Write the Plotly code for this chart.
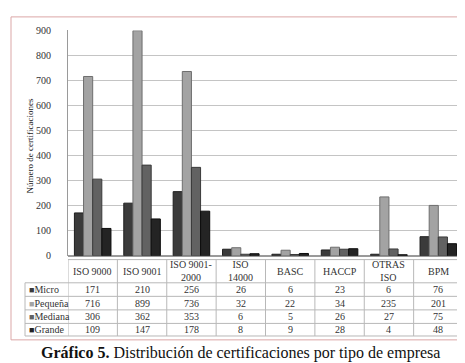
import plotly.graph_objects as go

categories = ["ISO 9000", "ISO 9001", "ISO 9001-<br>2000", "ISO<br>14000", "BASC", "HACCP", "OTRAS<br>ISO", "BPM"]
series_names = ["Micro", "Pequeña", "Mediana", "Grande"]
micro = [171, 210, 256, 26, 6, 23, 6, 76]
pequena = [716, 899, 736, 32, 22, 34, 235, 201]
mediana = [306, 362, 353, 6, 5, 26, 27, 75]
grande = [109, 147, 178, 8, 9, 28, 4, 48]
y_ticks = [0, 100, 200, 300, 400, 500, 600, 700, 800, 900]

values = [micro, pequena, mediana, grande]
colors = ["#3b3b3b", "#a3a3a3", "#626262", "#242424"]
edge = ["#1e1e1e", "#6e6e6e", "#3a3a3a", "#0c0c0c"]

W, H = 465, 363
FONT = "Liberation Serif"

def py(px):
    return 1 - px / H

def pxx(px):
    return px / W

x_idx = list(range(len(categories)))

fig = go.Figure()
for name, vals, c, e in zip(series_names, values, colors, edge):
    fig.add_trace(go.Bar(
        x=x_idx, y=vals, name=name,
        marker=dict(color=c, line=dict(color=e, width=1)),
        hoverinfo="y+name",
    ))

# table geometry (pixels)
plot_left, plot_right = 60, 455
tab_left = 17
header_top, header_bot = 254, 278
row_lines = [278, 292, 306, 320, 333]
row_centers = [285, 299, 313, 326.5]

shapes = []
line_style = dict(color="#b8b8b8", width=1)
shapes.append(dict(type="line", xref="paper", yref="paper", x0=pxx(plot_left), x1=pxx(plot_right),
                   y0=py(header_top), y1=py(header_top), line=line_style))
for r in row_lines:
    shapes.append(dict(type="line", xref="paper", yref="paper", x0=pxx(tab_left), x1=pxx(plot_right),
                       y0=py(r), y1=py(r), line=line_style))
shapes.append(dict(type="line", xref="paper", yref="paper", x0=pxx(tab_left), x1=pxx(tab_left),
                   y0=py(header_bot), y1=py(row_lines[-1]), line=line_style))
for i in range(len(categories) + 1):
    shapes.append(dict(type="line", xref="x", yref="paper", x0=i - 0.5, x1=i - 0.5,
                       y0=py(header_top), y1=py(row_lines[-1]), line=line_style))
shapes.append(dict(type="rect", xref="paper", yref="paper", x0=pxx(3), x1=pxx(462), y0=py(337), y1=py(3),
                   line=dict(color="#dba7a7", width=1)))

annotations = []
for i, cat in enumerate(categories):
    annotations.append(dict(x=i, y=py(266), xref="x", yref="paper", text=cat, showarrow=False,
                            xanchor="center", yanchor="middle",
                            font=dict(family=FONT, size=10, color="#333"), align="center"))
for name, vals, c, yc in zip(series_names, values, colors, row_centers):
    annotations.append(dict(x=pxx(19), y=py(yc), xref="paper", yref="paper", xanchor="left", yanchor="middle",
                            text=f'<span style="color:{c};font-size:9px">■</span>{name}', showarrow=False,
                            font=dict(family=FONT, size=10, color="#333")))
    for i, v in enumerate(vals):
        annotations.append(dict(x=i, y=py(yc), xref="x", yref="paper", text=str(v), showarrow=False,
                                xanchor="center", yanchor="middle",
                                font=dict(family=FONT, size=10, color="#333")))
annotations.append(dict(x=pxx(22), y=py(137), xref="paper", yref="paper", text="Número de certificaciones",
                        textangle=-90, showarrow=False, xanchor="center", yanchor="middle",
                        font=dict(family=FONT, size=9, color="#222")))
annotations.append(dict(x=0.5, y=py(351), xref="paper", yref="paper",
                        text="<b>Gráfico 5.</b> Distribución de certificaciones por tipo de empresa",
                        showarrow=False, xanchor="center", yanchor="middle",
                        font=dict(family=FONT, size=16, color="#111")))

fig.update_layout(
    width=W, height=H,
    margin=dict(l=0, r=0, t=0, b=0),
    paper_bgcolor="white", plot_bgcolor="white",
    barmode="group", bargap=0.26, bargroupgap=0,
    showlegend=False,
    xaxis=dict(domain=[pxx(plot_left), pxx(plot_right)], range=[-0.5, len(categories) - 0.5],
               showticklabels=False, showgrid=False, zeroline=False, fixedrange=True),
    yaxis=dict(domain=[py(250), py(17)], range=[0, 900], tickvals=y_ticks,
               showgrid=True, gridcolor="#c4c4c4", gridwidth=1, zeroline=True, zerolinecolor="#9a9a9a",
               showline=True, linecolor="#9a9a9a", ticks="", ticklabelstandoff=14,
               tickfont=dict(family=FONT, size=10, color="#333")),
    shapes=shapes, annotations=annotations,
)

fig.write_html("out.html")
